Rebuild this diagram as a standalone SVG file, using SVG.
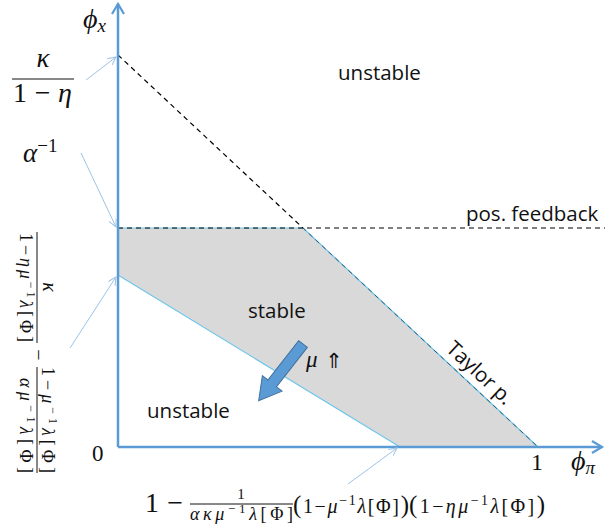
<svg xmlns="http://www.w3.org/2000/svg" width="605" height="531" viewBox="0 0 605 531">
<style>
.ax{stroke:#5B9BD5;stroke-width:2.5;fill:none}
.ann{stroke:#9DC3E6;stroke-width:1;fill:none}
.bnd{stroke:#6EC6EA;stroke-width:1.2;fill:none}
.dash{stroke:#000;stroke-width:1.2;stroke-dasharray:5 4;fill:none}
.dash2{stroke:#2E5E78;stroke-width:1;stroke-dasharray:5 4;fill:none}
.lbl{font-family:"Open Sans","Liberation Sans",sans-serif;font-size:20.5px;fill:#111}
.m{font-family:"Liberation Serif","DejaVu Serif",serif;fill:#111}
.i{font-style:italic}
.fl{stroke:#111;stroke-width:1}
</style>
<defs>
<marker id="axh" markerUnits="userSpaceOnUse" markerWidth="16" markerHeight="16" refX="11" refY="7" orient="auto">
<path d="M1,1 L11,7 L1,13" fill="none" stroke="#5B9BD5" stroke-width="2.2"/>
</marker>
<marker id="anh" markerUnits="userSpaceOnUse" markerWidth="12" markerHeight="12" refX="8" refY="4" orient="auto">
<path d="M0,0 L8,4 L0,8" fill="none" stroke="#9DC3E6" stroke-width="1"/>
</marker>
</defs>
<rect width="605" height="531" fill="#fff"/>
<g id="stable-region">
<polygon points="118,228 303,228 538,447 400,447 118,275" fill="#D9D9D9"/>
<path class="bnd" d="M118,228 L303,228 M303,228 L538,447 M118,275 L400,447"/>
</g>
<g id="connectors">
<path class="dash" d="M118,55 L303,228"/>
<path class="dash2" d="M303,228 L538,447" stroke-dashoffset="1"/>
<path class="dash" d="M118,228 L605,228"/>
<path class="ax" d="M118,447 L118,4" marker-end="url(#axh)"/>
<path class="ax" d="M118,447 L602,447" marker-end="url(#axh)"/>
<path class="ann" d="M86,80 L116,57" marker-end="url(#anh)"/>
<path class="ann" d="M81,153 L116,227" marker-end="url(#anh)"/>
<path class="ann" d="M70,348 L116,277" marker-end="url(#anh)"/>
<path class="ann" d="M348,484 L397,448" marker-end="url(#anh)"/>
<polygon points="0,-5.5 50,-5.5 50,-12.5 72,0 50,12.5 50,5.5 0,5.5" fill="#5B9BD5" stroke="#41719C" stroke-width="1" transform="translate(303,344) rotate(128)"/>
</g>
<g id="label-phix">
<text class="m i" x="83" y="28" font-size="28">ϕ<tspan font-size="19" dy="4">x</tspan></text>
</g>
<g id="label-kappa">
<text class="m i" x="43" y="67" font-size="27" text-anchor="middle">κ</text>
<line class="fl" x1="12" y1="79" x2="74" y2="79"/>
<text class="m" x="13" y="102" font-size="28" textLength="59">1 − <tspan class="i">η</tspan></text>
</g>
<g id="label-alpha">
<text class="m" x="23" y="162" font-size="27"><tspan class="i">α</tspan><tspan font-size="19" dy="-10">−1</tspan></text>
</g>
<g id="label-left" transform="rotate(90)">
<text class="m i" x="287" y="-43" font-size="20" text-anchor="middle">κ</text>
<line class="fl" x1="232" y1="-37" x2="343" y2="-37"/>
<text class="m" x="233" y="-20" font-size="18" textLength="109">1−<tspan class="i">ημ</tspan><tspan font-size="12" dy="-7">−1</tspan><tspan class="i" dy="7">λ</tspan>[Φ]</text>
<text class="m" x="355" y="-32" font-size="20" text-anchor="middle">−</text>
<text class="m" x="367" y="-42" font-size="18" textLength="106">1−<tspan class="i">μ</tspan><tspan font-size="12" dy="-7">−1</tspan><tspan class="i" dy="7">λ</tspan>[Φ]</text>
<line class="fl" x1="367" y1="-37" x2="473" y2="-37"/>
<text class="m" x="378" y="-20" font-size="18" textLength="95"><tspan class="i">αμ</tspan><tspan font-size="12" dy="-7">−1</tspan><tspan class="i" dy="7">λ</tspan>[Φ]</text>
</g>
<g id="label-bottom">
<text class="m" x="145" y="512" font-size="28" textLength="38">1 −</text>
<text class="m" x="241" y="499" font-size="15" text-anchor="middle">1</text>
<line class="fl" x1="190" y1="504" x2="293" y2="504"/>
<text class="m" x="190" y="520" font-size="18" textLength="103"><tspan class="i">ακμ</tspan><tspan font-size="13" dy="-7">−1</tspan><tspan class="i" dy="7">λ</tspan>[Φ]</text>
<text class="m" x="293" y="513" font-size="20" textLength="116"><tspan font-size="25">(</tspan>1−<tspan class="i">μ</tspan><tspan font-size="14" dy="-8">−1</tspan><tspan class="i" dy="8">λ</tspan>[Φ]<tspan font-size="25">)</tspan></text>
<text class="m" x="409" y="513" font-size="20" textLength="136"><tspan font-size="25">(</tspan>1−<tspan class="i">ημ</tspan><tspan font-size="14" dy="-8">−1</tspan><tspan class="i" dy="8">λ</tspan>[Φ]<tspan font-size="25">)</tspan></text>
</g>
<g id="label-zero"><text class="m" x="92" y="461" font-size="23">0</text></g>
<g id="label-one"><text class="m" x="531" y="470" font-size="24">1</text></g>
<g id="label-phipi"><text class="m i" x="571" y="470" font-size="28">ϕ<tspan font-size="19" dy="4">π</tspan></text></g>
<g id="label-unstable-top"><text class="lbl" x="338" y="80">unstable</text></g>
<g id="label-posfeedback"><text class="lbl" x="466" y="221">pos. feedback</text></g>
<g id="label-stable"><text class="lbl" x="248" y="318">stable</text></g>
<g id="label-unstable-bottom"><text class="lbl" x="147" y="418">unstable</text></g>
<g id="label-mu"><text class="m i" x="306" y="367" font-size="23">μ</text><text x="325" y="368" font-size="21" font-family="DejaVu Sans,sans-serif" fill="#111">⇑</text></g>
<g id="label-taylor"><text class="lbl" font-size="19.5" text-anchor="middle" transform="translate(475,378) rotate(43)">Taylor p.</text></g>
</svg>
